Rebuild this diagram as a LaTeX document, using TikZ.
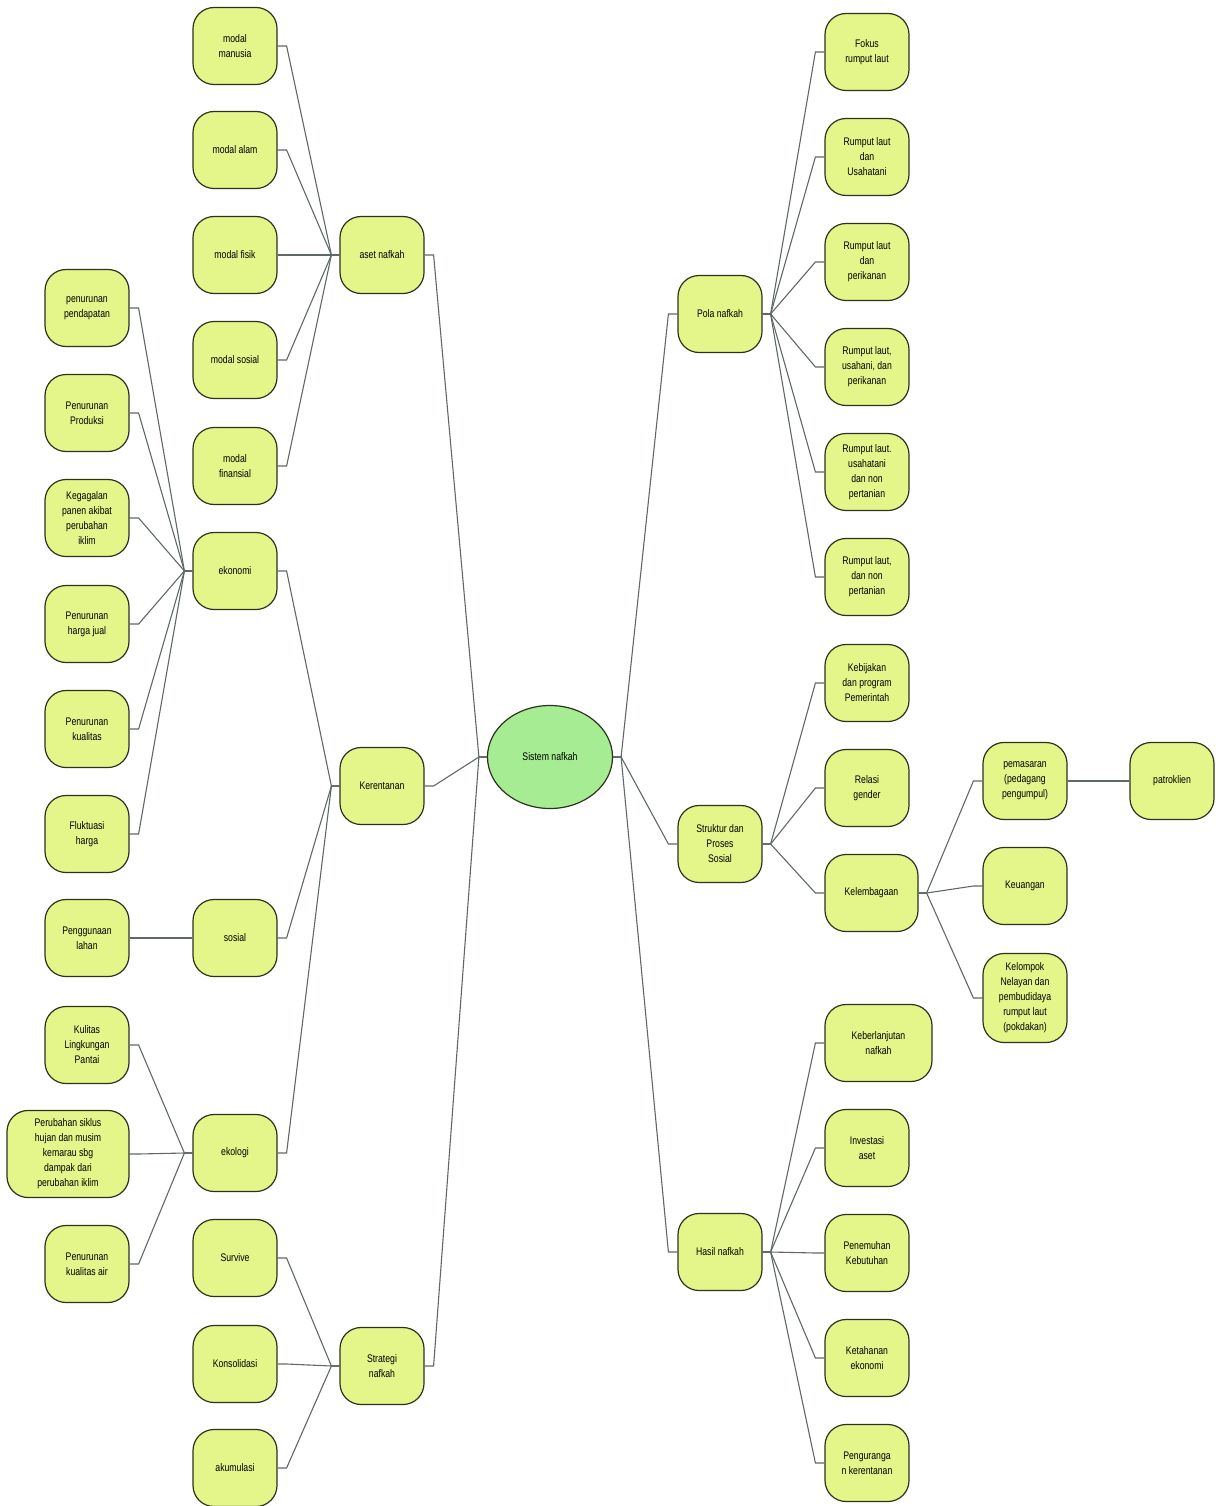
\documentclass[tikz,border=0pt]{standalone}
\usepackage{fontspec}
\setmainfont{Liberation Sans}[FakeStretch=0.79]
\usetikzlibrary{shapes.geometric}
\definecolor{boxfill}{RGB}{228,245,138}
\definecolor{boxdraw}{RGB}{45,50,30}
\definecolor{ellfill}{RGB}{166,236,146}
\definecolor{connc}{RGB}{95,104,104}
\newcommand{\LL}[2]{\draw[conn] (#1.east) -- ++(9,0) -- ([xshift=-8pt]#2.west) -- (#2.west);}
\newcommand{\RR}[2]{\draw[conn] (#1.east) -- ++(8,0) -- ([xshift=-9pt]#2.west) -- (#2.west);}
\begin{document}
\begin{tikzpicture}[x=1pt,y=-1pt,
  box/.style={draw=boxdraw,fill=boxfill,line width=1.2pt,rounded corners=21pt,
    minimum width=84pt,minimum height=77pt,inner sep=0pt,align=center,
    font=\fontsize{11}{15}\selectfont},
  ell/.style={draw=boxdraw,fill=ellfill,line width=1.2pt,ellipse,
    minimum width=125pt,minimum height=103pt,inner sep=0pt,align=center,
    font=\fontsize{11}{15}\selectfont},
  conn/.style={draw=connc,line width=1.1pt}]
\useasboundingbox (0,0) rectangle (1221,1506);
% centre
\node[ell] (sis) at (550,757) {Sistem nafkah};
% second column left
\node[box] (aset) at (382,255) {aset nafkah};
\node[box] (ker) at (382,786) {Kerentanan};
\node[box] (strat) at (382,1366) {Strategi\\nafkah};
% left leaf column
\node[box] (mman) at (235,46) {modal\\manusia};
\node[box] (malam) at (235,150) {modal alam};
\node[box] (mfis) at (235,255) {modal fisik};
\node[box] (msos) at (235,360) {modal sosial};
\node[box] (mfin) at (235,466) {modal\\finansial};
\node[box] (eko) at (235,571) {ekonomi};
\node[box] (sos) at (235,938) {sosial};
\node[box] (ekol) at (235,1153) {ekologi};
\node[box] (surv) at (235,1258) {Survive};
\node[box] (kons) at (235,1364) {Konsolidasi};
\node[box] (akum) at (235,1468) {akumulasi};
% far left column
\node[box] (pend) at (87,308) {penurunan\\pendapatan};
\node[box] (prod) at (87,413) {Penurunan\\Produksi};
\node[box] (gagal) at (87,518) {Kegagalan\\panen akibat\\perubahan\\iklim};
\node[box] (harga) at (87,624) {Penurunan\\harga jual};
\node[box] (kual) at (87,729) {Penurunan\\kualitas};
\node[box] (fluk) at (87,834) {Fluktuasi\\harga};
\node[box] (lahan) at (87,938) {Penggunaan\\lahan};
\node[box] (pantai) at (87,1045) {Kulitas\\Lingkungan\\Pantai};
\node[box,minimum width=122pt,minimum height=87pt] (siklus) at (68,1154) {Perubahan siklus\\hujan dan musim\\kemarau sbg\\dampak dari\\perubahan iklim};
\node[box] (air) at (87,1264) {Penurunan\\kualitas air};
% right second column
\node[box] (pola) at (720,314) {Pola nafkah};
\node[box] (strk) at (720,844) {Struktur dan\\Proses\\Sosial};
\node[box] (hasil) at (720,1252) {Hasil nafkah};
% right leaf column
\node[box] (fokus) at (867,52) {Fokus\\rumput laut};
\node[box] (rlu) at (867,157) {Rumput laut\\dan\\Usahatani};
\node[box] (rlp) at (867,262) {Rumput laut\\dan\\perikanan};
\node[box] (rlup) at (867,367) {Rumput laut,\\usahani, dan\\perikanan};
\node[box] (rlun) at (867,472) {Rumput laut.\\usahatani\\dan non\\pertanian};
\node[box] (rln) at (867,577) {Rumput laut,\\dan non\\pertanian};
\node[box] (kebij) at (867,683) {Kebijakan\\dan program\\Pemerintah};
\node[box] (relasi) at (867,788) {Relasi\\gender};
\node[box,minimum width=93pt] (lemb) at (871.5,893) {Kelembagaan};
\node[box,minimum width=107pt] (lanjut) at (878.5,1043) {Keberlanjutan\\nafkah};
\node[box] (inves) at (867,1148) {Investasi\\aset};
\node[box] (penem) at (867,1253) {Penemuhan\\Kebutuhan};
\node[box] (tahan) at (867,1358) {Ketahanan\\ekonomi};
\node[box] (kurang) at (867,1463) {Penguranga\\n kerentanan};
% far right
\node[box] (pem) at (1025,781) {pemasaran\\(pedagang\\pengumpul)};
\node[box] (keu) at (1025,886) {Keuangan};
\node[box,minimum height=89pt] (kelp) at (1025,998) {Kelompok\\Nelayan dan\\pembudidaya\\rumput laut\\(pokdakan)};
\node[box] (pat) at (1172,781) {patroklien};
% connectors left
\LL{aset}{sis}
\LL{ker}{sis}
\LL{strat}{sis}
\LL{mman}{aset}
\LL{malam}{aset}
\LL{mfis}{aset}
\LL{msos}{aset}
\LL{mfin}{aset}
\LL{eko}{ker}
\LL{sos}{ker}
\LL{ekol}{ker}
\LL{surv}{strat}
\LL{kons}{strat}
\LL{akum}{strat}
\LL{pend}{eko}
\LL{prod}{eko}
\LL{gagal}{eko}
\LL{harga}{eko}
\LL{kual}{eko}
\LL{fluk}{eko}
\draw[conn] (lahan.east) -- (sos.west);
\LL{pantai}{ekol}
\LL{siklus}{ekol}
\LL{air}{ekol}
% connectors right
\RR{sis}{pola}
\RR{sis}{strk}
\RR{sis}{hasil}
\RR{pola}{fokus}
\RR{pola}{rlu}
\RR{pola}{rlp}
\RR{pola}{rlup}
\RR{pola}{rlun}
\RR{pola}{rln}
\RR{strk}{kebij}
\RR{strk}{relasi}
\RR{strk}{lemb}
\RR{lemb}{pem}
\RR{lemb}{keu}
\RR{lemb}{kelp}
\draw[conn] (pem.east) -- (pat.west);
\RR{hasil}{lanjut}
\RR{hasil}{inves}
\RR{hasil}{penem}
\RR{hasil}{tahan}
\RR{hasil}{kurang}
\end{tikzpicture}
\end{document}
